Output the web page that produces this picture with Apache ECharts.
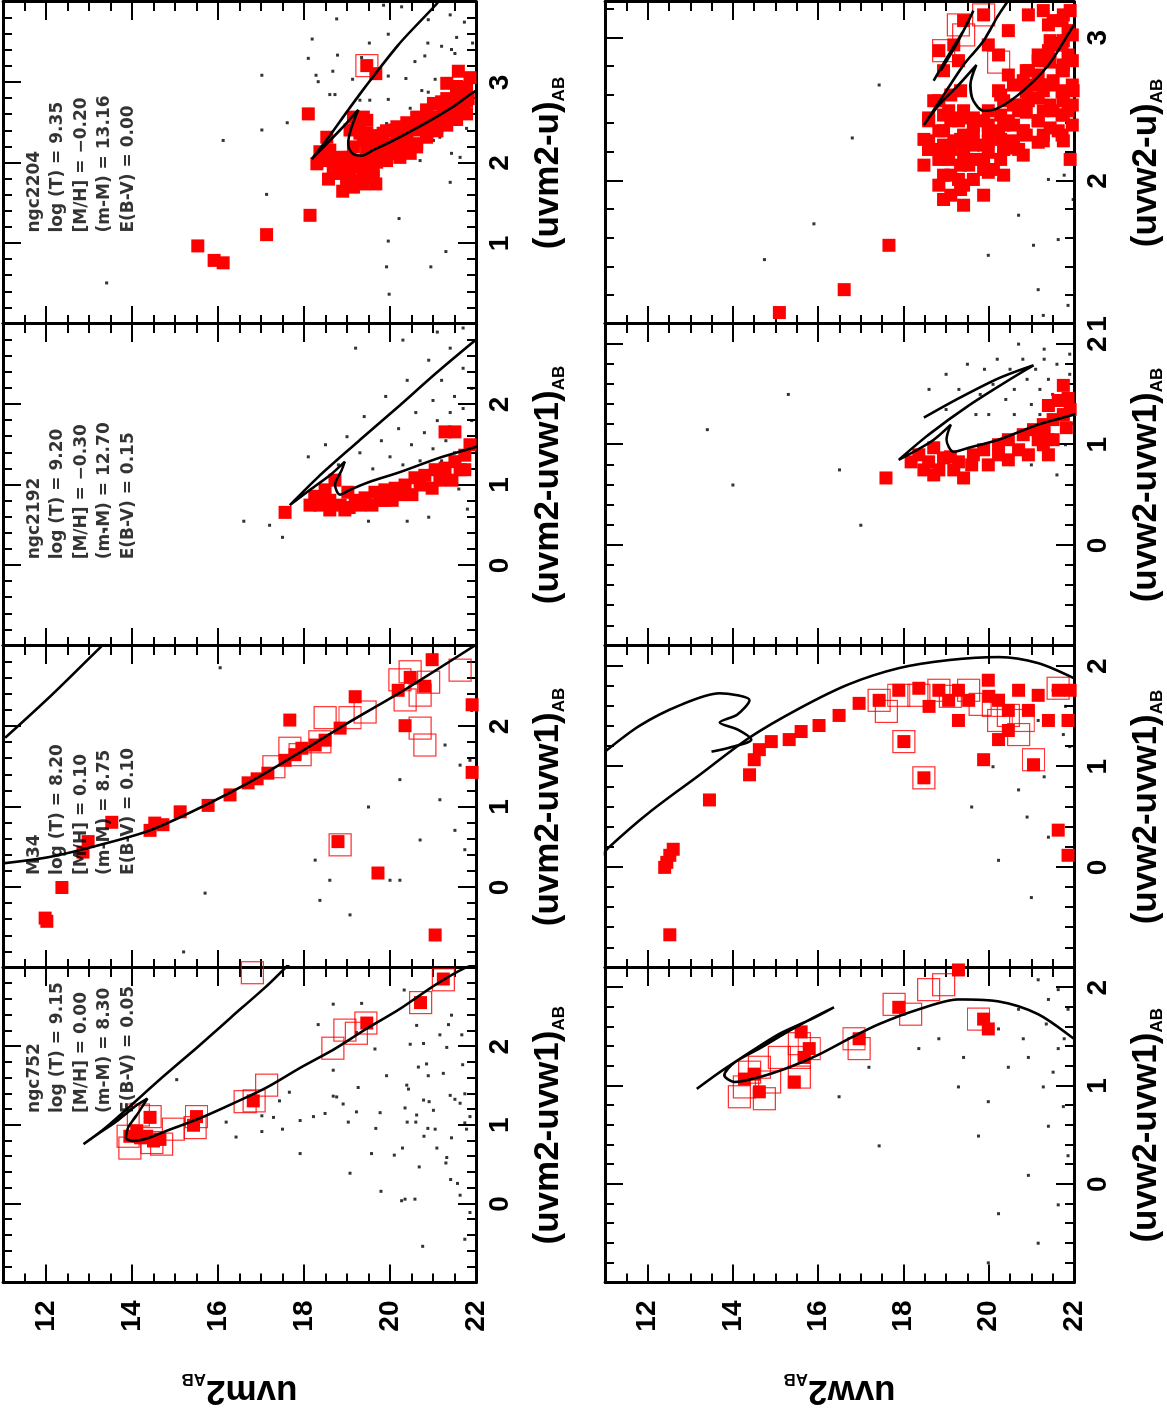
<!DOCTYPE html>
<html>
<head>
<meta charset="utf-8">
<script src="https://cdn.jsdelivr.net/npm/echarts@6/dist/echarts.min.js"></script>
<style>
  html, body { margin: 0; padding: 0; background: #fff; overflow: hidden; }
  body { width: 1167px; height: 1409px; position: relative; }
  /* the figure is drawn landscape and turned a quarter turn, like the printed page */
  #chart {
    position: absolute; left: 0; top: 0;
    width: 1409px; height: 1167px;
    transform-origin: 0 0;
    transform: translate(0, 1409px) rotate(-90deg);
  }
</style>
</head>
<body>
<div id="chart"></div>
<script>
// magnitude axis (same for all panels)
const magTicks = [12, 14, 16, 18, 20, 22];

// ---- ngc752, uvm2 vs (uvm2-uvw1) ----  points are [colour, magnitude]
const ngc752M2Iso = [[3.05,22.1],[3.0,21.74],[2.77,21.01],[2.48,20.23],[2.23,19.46],[1.96,18.68],[1.73,17.91],[1.48,17.13],[1.28,16.36],[1.09,15.58],[0.93,14.81],[0.83,14.34],[0.80,14.03],[0.84,13.86],[0.97,13.91],[1.13,14.11],[1.34,14.36],[1.24,14.07],[1.05,13.64],[0.91,13.26],[0.76,12.87],[0.98,13.41],[1.28,14.03],[1.66,14.81],[2.02,15.58],[2.40,16.36],[2.77,17.13],[3.06,17.67]];
const ngc752M2Filled = [[2.86,21.24],[2.56,20.71],[2.30,19.46],[1.31,16.82],[1.00,15.43],[1.11,15.50],[1.10,14.42],[0.93,14.11],[0.86,14.34],[0.82,14.65],[0.86,13.95],[0.84,14.2],[0.80,14.5]];
const ngc752M2Open = [[2.85,21.24],[2.56,20.71],[2.30,19.44],[2.17,19.22],[2.21,18.95],[1.98,18.67],[1.51,17.13],[1.31,16.84],[1.30,16.63],[1.11,15.50],[0.97,15.47],[0.95,14.96],[1.13,14.15],[1.11,14.42],[0.86,13.91],[0.71,13.95],[0.78,14.46],[0.76,14.69],[2.94,16.80]];
const ngc752M2Field = [[2.54,18.68],[2.55,19.34],[2.28,18.33],[2.18,19.22],[1.97,19.65],[2.72,20.33],[2.03,20.47],[2.27,20.62],[2.04,20.78],[1.99,21.32],[2.15,21.16],[2.28,21.36],[2.40,21.43],[2.15,21.67],[1.77,21.69],[1.66,21.24],[1.63,19.92],[1.78,20.85],[1.74,20.66],[1.63,20.89],[1.51,20.39],[1.46,20.43],[1.38,21.40],[1.33,21.51],[1.28,21.63],[1.40,21.74],[1.32,20.78],[1.30,20.91],[1.22,20.35],[1.13,20.62],[1.19,21.01],[1.16,19.77],[1.17,19.22],[1.27,18.91],[1.37,18.68],[1.36,18.76],[1.48,19.26],[1.04,19.03],[1.15,18.49],[1.11,18.22],[1.06,17.91],[1.42,17.66],[1.31,17.43],[1.10,17.29],[1.12,17.02],[0.92,17.02],[0.95,17.50],[1.04,16.19],[0.85,16.42],[1.58,15.04],[1.70,18.68],[0.96,19.67],[1.04,20.40],[1.04,20.60],[0.96,20.88],[0.95,21.05],[0.86,20.79],[0.84,21.43],[0.71,21.09],[0.71,20.29],[0.62,20.10],[0.64,19.57],[0.39,19.07],[0.64,17.91],[0.47,20.68],[0.59,21.32],[0.52,21.30],[0.31,21.41],[0.26,21.57],[0.16,19.79],[0.04,20.27],[0.06,20.35],[0.06,20.58],[0.11,21.63],[-0.45,21.74],[-0.54,20.76],[-0.11,21.86],[0.95,21.78],[1.11,21.86],[1.03,21.74]];

// ---- M34, uvm2 vs (uvm2-uvw1) ----
const m34M2Iso = [[0.30,11.0],[0.38,12.09],[0.53,13.26],[0.71,14.42],[0.99,15.58],[1.31,16.74],[1.68,17.91],[2.06,19.07],[2.42,20.23],[2.73,21.16],[3.05,22.1]];
const m34M2IsoGiant = [[1.86,11.05],[2.37,12.09],[2.98,13.26],[3.1,13.5]];
const m34M2Filled = [[-0.38,11.98],[-0.42,12.02],[0.0,12.37],[0.44,12.86],[0.57,12.98],[0.81,13.53],[0.71,14.42],[0.80,14.53],[0.78,14.72],[0.94,15.12],[1.02,15.77],[1.15,16.28],[1.30,16.70],[1.35,16.91],[1.42,17.16],[1.58,17.56],[1.65,17.79],[1.73,17.95],[1.77,18.26],[1.83,18.49],[2.08,17.67],[1.98,18.84],[2.37,19.19],[0.18,19.72],[0.57,18.79],[2.01,20.35],[2.61,20.47],[2.50,20.81],[2.83,20.98],[-0.59,21.05],[2.27,21.91],[1.43,21.91],[2.45,20.19]];
const m34M2Open = [[1.73,17.67],[1.65,17.91],[1.81,18.37],[2.11,18.49],[0.53,18.84],[2.11,19.07],[2.18,19.42],[2.58,20.23],[2.68,20.47],[2.39,20.70],[1.77,20.81],[1.98,20.70],[2.70,21.63],[2.33,20.35],[2.55,20.9],[1.50,17.3]];
const m34M2Field = [[-0.07,15.70],[0.34,18.26],[-0.16,18.37],[0.09,20.23],[1.09,21.16],[1.52,21.63],[1.58,21.86],[2.73,16.05],[-0.34,19.07],[0.09,20.0],[0.09,18.6],[0.59,20.7],[0.71,21.51],[0.47,21.74],[1.34,20.23],[1.77,21.28],[-0.8,15.2],[2.2,21.9],[1.0,19.5]];

// ---- ngc2192, uvm2 vs (uvm2-uvw1) ----
const ngc2192M2Iso = [[1.50,22.1],[1.47,21.98],[1.34,21.16],[1.16,20.23],[1.04,19.53],[0.94,19.07],[0.88,18.84],[1.0,18.72],[1.19,18.88],[1.29,18.95],[1.12,18.60],[0.94,18.14],[0.75,17.67],[1.12,18.37],[1.56,19.30],[1.99,20.23],[2.43,21.16],[2.85,22.1]];
const ngc2192M2Filled = [[0.66,17.56],[0.84,18.33],[0.94,18.49],[0.81,18.60],[0.75,18.84],[0.91,19.02],[0.81,19.19],[0.84,19.42],[0.91,19.65],[0.94,19.88],[0.96,20.12],[1.0,20.35],[1.09,20.58],[1.12,20.81],[1.19,21.05],[1.21,21.28],[1.29,21.51],[1.37,21.74],[1.50,21.86],[0.75,19.30],[0.75,18.37],[0.69,18.60],[0.69,18.95],[0.81,19.77],[0.88,20.23],[1.0,20.70],[1.06,21.16],[1.19,21.63],[1.06,18.72],[0.81,19.88],[1.66,21.28],[1.66,21.51],[0.75,18.14],[0.75,19.58],[0.81,20.05],[0.88,20.51],[0.96,20.98],[1.06,21.44],[1.19,21.74],[0.86,18.25],[0.72,19.05]];
const ngc2192M2Open = [];
const ngc2192M2Field = [[0.45,13.4],[0.55,16.6],[0.5,17.2],[0.35,17.5],[1.35,18.1],[1.5,18.5],[1.25,18.8],[1.6,19.0],[1.4,19.3],[1.85,19.4],[1.2,19.6],[1.55,19.8],[2.1,19.9],[1.35,20.0],[1.7,20.2],[1.25,20.3],[2.3,20.4],[1.5,20.5],[1.9,20.6],[1.3,20.7],[1.65,20.8],[2.55,20.9],[1.45,21.0],[2.05,21.0],[1.8,21.1],[1.3,21.2],[2.3,21.2],[1.55,21.3],[1.9,21.4],[2.7,21.4],[1.4,21.5],[2.1,21.5],[1.7,21.6],[1.25,21.6],[1.95,21.7],[2.45,21.7],[1.5,21.8],[1.15,21.8],[1.8,21.9],[2.2,21.9],[1.1,21.3],[0.95,21.6],[0.6,20.9],[0.7,21.8],[0.55,20.4],[0.55,19.5],[2.9,21.1],[2.8,20.3],[2.7,19.2],[2.95,21.7]];

// ---- ngc2204, uvm2 vs (uvm2-u) ----
const ngc2204M2Iso = [[2.92,22.1],[2.88,21.94],[2.70,21.47],[2.55,21.01],[2.41,20.54],[2.28,20.08],[2.16,19.61],[2.09,19.34],[2.11,19.15],[2.18,19.05],[2.26,19.03],[2.45,19.11],[2.66,19.26],[2.45,18.91],[2.24,18.53],[2.05,18.18],[2.34,18.60],[2.66,19.03],[2.97,19.46],[3.49,20.23],[3.98,21.09],[4.1,21.25]];
const ngc2204M2Filled = [[2.61,18.10],[1.35,18.14],[1.11,17.13],[0.97,15.53],[0.79,15.91],[0.76,16.12],[1.80,18.57],[1.65,18.90],[1.74,19.67],[3.21,19.46],[3.11,19.67],[3.14,21.59],[3.06,21.86],[2.80,21.82],[2.74,21.01],[2.76,21.20],[2.59,21.51],[2.95,21.55],[2.99,21.32],[2.32,18.53],[2.03,18.41],[2.07,18.68],[1.95,18.91],[1.87,19.07],[1.95,19.30],[2.03,19.46],[2.20,19.15],[2.28,19.38],[2.37,19.46],[2.32,19.61],[2.37,19.84],[2.41,20.08],[2.43,20.31],[2.45,20.54],[2.53,20.78],[2.57,21.01],[2.63,21.24],[2.66,21.47],[2.70,21.71],[2.57,19.15],[2.57,19.38],[2.45,19.30],[2.41,19.07],[2.07,18.91],[1.87,19.38],[1.91,19.61],[2.03,19.92],[2.07,20.23],[2.12,20.47],[2.20,20.62],[2.20,19.84],[2.20,20.15],[2.28,20.39],[2.37,20.86],[2.45,21.09],[1.91,18.84],[1.78,19.22],[1.78,18.99],[2.14,19.46],[2.07,19.69],[1.95,18.68],[1.99,18.30],[2.78,21.40],[2.82,21.64],
  [2.29,19.46],[2.12,19.46],[1.96,19.46],[2.34,19.69],[2.18,19.69],[2.01,19.69],[2.40,19.92],[2.23,19.92],[2.07,19.92],[2.45,20.16],[2.28,20.16],[2.12,20.16],[2.50,20.39],[2.34,20.39],[2.17,20.39],[2.57,20.62],[2.41,20.62],[2.24,20.62],[2.66,20.85],[2.49,20.85],[2.32,20.85],[2.73,21.09],[2.56,21.09],[2.40,21.09],[2.80,21.32],[2.63,21.32],[2.47,21.32],[2.87,21.55],[2.71,21.55],[2.54,21.55],[2.94,21.78],[2.77,21.78],[2.61,21.78],
  [2.03,18.76],[2.07,18.99],[2.03,19.22],[1.83,19.61],[1.91,18.99],[1.70,19.15],[1.74,19.38],[1.87,18.76],[2.53,19.26],[2.53,19.46],[2.37,19.30],[2.24,19.53],[2.07,19.07],[2.16,18.60],[2.14,18.37]];
const ngc2204M2Open = [[3.21,19.46]];
const ngc2204M2Field = [[3.79,18.76],[3.60,19.96],[3.49,19.52],[3.31,19.34],[3.54,18.19],[3.30,18.10],[3.34,18.78],[3.14,18.67],[3.09,18.28],[3.01,18.33],[3.09,17.02],[2.85,18.60],[2.85,18.72],[3.04,19.13],[2.78,19.30],[2.78,19.53],[2.79,19.96],[3.08,19.96],[3.05,20.37],[3.26,20.58],[3.33,20.81],[3.04,21.05],[3.49,20.88],[3.45,21.20],[3.41,21.43],[3.36,21.51],[3.56,21.55],[3.75,21.73],[3.49,21.92],[3.84,21.40],[3.78,20.89],[3.94,20.27],[2.90,20.74],[2.88,20.89],[2.68,20.47],[2.45,21.43],[2.43,21.78],[2.32,21.16],[2.28,21.01],[2.07,21.63],[2.12,21.43],[2.03,20.70],[1.76,21.40],[1.31,20.21],[1.03,19.96],[0.90,21.30],[0.71,19.92],[0.71,20.95],[0.37,19.98],[2.50,17.61],[2.41,17.02],[2.28,16.12],[1.61,17.13],[0.51,13.41],[2.49,19.92],[3.96,19.85]];

// ---- ngc752, uvw2 vs (uvw2-uvw1) ----
const ngc752W2Iso = [[1.40,22.2],[1.48,22.0],[1.73,21.16],[1.86,20.23],[1.88,19.29],[1.78,18.36],[1.63,17.43],[1.48,16.72],[1.32,16.02],[1.19,15.32],[1.09,14.62],[1.04,14.04],[1.11,13.80],[1.24,14.04],[1.38,14.62],[1.56,15.32],[1.70,15.91],[1.80,16.37],[1.68,15.84],[1.53,15.09],[1.34,14.39],[1.14,13.69],[0.97,13.15]];
const ngc752W2Filled = [[2.18,19.29],[1.68,19.88],[1.58,19.99],[1.07,14.27],[0.94,14.62],[1.04,15.44],[1.38,15.79],[1.48,16.96],[1.80,17.89],[1.29,15.67],[1.12,14.5],[1.55,15.6]];
const ngc752W2Open = [[0.99,14.27],[1.14,14.39],[1.19,14.62],[1.29,15.09],[1.04,14.86],[1.29,15.56],[1.43,15.56],[1.38,15.79],[1.48,16.84],[1.38,16.96],[1.83,17.78],[1.73,18.17],[1.98,18.59],[2.03,18.94],[1.68,19.76],[0.89,14.15],[0.87,14.74],[1.09,15.56]];
const ngc752W2Field = [[2.08,21.16],[1.98,21.63],[1.88,21.40],[1.78,20.70],[1.58,20.23],[1.38,21.63],[1.29,20.93],[0.99,21.28],[1.19,20.46],[0.79,21.75],[0.84,19.99],[0.59,21.40],[0.29,21.86],[0.49,19.76],[0.09,20.93],[-0.21,21.63],[0.99,19.29],[-0.30,20.23],[1.38,18.36],[1.19,17.19],[0.89,16.49],[0.39,17.43],[-0.80,19.99],[-0.60,21.16],[1.78,21.86],[1.14,21.51],[1.48,18.83],[1.29,19.41],[1.48,21.77],[1.48,20.81],[1.63,21.35]];

// ---- M34, uvw2 vs (uvw2-uvw1) ----
const m34W2Iso = [[0.10,10.9],[0.19,11.07],[0.55,12.05],[0.92,13.22],[1.29,14.39],[1.58,15.56],[1.82,16.72],[1.98,17.89],[2.06,19.06],[2.09,20.23],[2.03,21.16],[1.88,22.0],[1.80,22.3]];
const m34W2IsoLoop = [[1.15,11.0],[1.41,11.82],[1.61,12.75],[1.73,13.69],[1.66,14.39],[1.52,14.11],[1.44,13.69],[1.37,14.11],[1.27,14.43],[1.19,13.92],[1.15,13.50]];
const m34W2Filled = [[0.05,12.45],[0.12,12.52],[0.18,12.6],[0.0,12.4],[-0.67,12.52],[0.67,13.45],[0.92,14.39],[1.07,14.50],[1.17,14.62],[1.27,15.32],[1.41,16.02],[1.51,16.49],[1.66,17.43],[1.76,17.89],[1.78,18.36],[1.76,18.83],[1.76,19.29],[1.66,19.53],[1.86,19.99],[1.66,20.23],[1.56,20.46],[1.76,20.70],[1.71,21.16],[1.76,21.63],[1.46,21.40],[1.46,21.86],[1.25,18.01],[0.89,18.48],[1.46,19.29],[1.27,20.23],[1.56,20.93],[0.37,21.63],[0.12,21.86],[1.02,21.05],[1.07,19.88],[1.36,20.46],[1.66,19.06],[1.63,16.96],[1.76,21.91],[1.25,14.9],[1.35,15.6],[1.6,18.6],[1.7,20.0]];
const m34W2Open = [[1.66,17.43],[1.71,17.89],[1.71,18.36],[1.76,18.83],[1.25,18.01],[0.89,18.48],[1.61,20.11],[1.51,20.46],[1.32,20.70],[1.07,21.05],[1.78,21.63],[1.76,19.53],[1.46,20.23],[1.46,20.81],[1.70,19.1],[1.62,19.8],[1.55,17.6]];
const m34W2Field = [[0.07,20.23],[0.77,20.70],[1.46,21.16],[1.76,21.51],[1.32,21.75],[0.5,20.9],[1.0,20.1],[1.2,21.9],[0.3,21.4],[0.9,21.3],[1.6,21.8],[0.6,19.6],[-0.3,21.0]];

// ---- ngc2192, uvw2 vs (uvw2-uvw1) ----
const ngc2192W2Iso = [[1.33,22.2],[1.30,22.0],[1.20,21.16],[1.05,20.23],[0.97,19.53],[0.93,19.18],[1.05,19.01],[1.20,19.11],[1.05,18.71],[0.93,18.24],[0.85,17.89],[1.10,18.59],[1.39,19.53],[1.64,20.46],[1.79,21.05],[1.66,20.23],[1.46,19.29],[1.27,18.48]];
const ngc2192W2Filled = [[0.67,17.59],[0.90,18.36],[0.83,18.59],[0.87,18.94],[0.83,19.29],[0.90,19.64],[0.95,19.88],[1.0,20.23],[1.05,20.46],[1.10,20.81],[1.15,21.05],[1.20,21.28],[1.25,21.51],[1.30,21.75],[1.39,21.40],[1.44,21.63],[1.46,21.86],[1.59,21.75],[1.0,21.28],[0.90,21.40],[1.17,21.82],[0.75,18.83],[0.75,18.48],[0.75,19.18],[0.90,20.23],[0.95,20.70],[1.05,21.16],[0.97,18.71],[0.83,18.18],
  [0.70,18.71],[0.67,19.41],[0.80,19.99],[0.85,20.46],[0.90,20.93],[1.05,21.51],[1.35,21.91],[0.80,19.6],[0.88,19.1],[1.12,21.3]];
const ngc2192W2Open = [];
const ngc2192W2Field = [[1.7,19.0],[1.55,19.3],[1.8,19.5],[1.5,19.8],[1.75,19.9],[1.6,20.1],[1.85,20.2],[1.45,20.4],[1.75,20.5],[1.55,20.6],[1.85,20.8],[1.65,20.9],[1.4,21.0],[1.75,21.1],[1.55,21.2],[1.85,21.3],[1.65,21.4],[1.5,21.5],[1.8,21.6],[1.6,21.7],[1.4,21.8],[1.7,21.9],[1.3,21.2],[1.1,21.5],[1.0,21.8],[0.8,21.0],[0.7,21.6],[1.3,20.6],[1.3,20.0],[1.3,19.7],[1.35,19.0],[1.55,18.6],[1.15,13.4],[1.5,15.3],[0.75,16.5],[0.2,17.0],[0.6,14.0],[1.95,21.3],[2.0,20.7],[1.9,21.9]];

// ---- ngc2204, uvw2 vs (uvw2-u) ----
const ngc2204W2Iso = [[3.12,22.1],[3.09,22.0],[2.81,21.40],[2.63,20.81],[2.51,20.23],[2.49,19.88],[2.56,19.64],[2.67,19.57],[2.81,19.71],[2.67,19.29],[2.53,18.83],[2.39,18.48],[2.60,18.94],[2.81,19.41],[2.98,19.88],[3.16,20.23],[3.30,20.55]];
const ngc2204W2IsoLoop = [[2.70,18.71],[2.88,19.06],[3.05,19.41],[3.19,19.64],[2.98,19.29],[2.77,18.87]];
const ngc2204W2Filled = [[2.42,18.59],[2.35,18.94],[2.28,19.18],[2.22,19.41],[2.25,19.64],[2.28,19.99],[2.35,20.23],[2.42,20.46],[2.49,20.70],[2.56,20.93],[2.63,21.28],[2.70,21.51],[2.77,21.75],[2.88,21.86],[2.95,21.63],[2.91,21.40],[2.84,21.16],[2.77,20.93],[3.05,21.86],[3.16,21.75],[3.19,21.28],[3.09,21.40],[2.22,18.83],[2.15,19.06],[2.11,19.53],[2.15,19.88],[2.08,20.11],[2.22,20.35],[2.28,20.58],[2.35,20.81],[2.42,21.16],[2.49,21.51],[2.56,21.75],[2.63,21.98],[2.42,19.29],[2.39,19.64],[2.39,19.99],[2.28,18.59],[2.56,18.71],[2.49,19.06],[2.91,18.83],[2.95,19.18],[3.12,19.41],[3.16,19.88],[2.88,20.23],[2.74,20.46],[2.63,20.23],[2.28,21.28],[2.35,21.63],[2.01,19.29],[2.22,18.59],[1.55,17.66],[1.24,16.61],[1.08,15.09],[2.49,21.86],[2.22,20.70],[2.67,21.05],
  [2.29,18.48],[2.11,18.48],[2.46,18.94],[2.25,18.94],[2.04,18.94],[1.87,18.94],[2.49,19.41],[2.32,19.41],[2.15,19.41],[1.97,19.41],[1.83,19.41],[2.42,19.88],[2.25,19.88],[2.08,19.88],[1.90,19.88],[2.56,20.35],[2.39,20.35],[2.22,20.35],[2.04,20.35],[2.70,20.81],[2.53,20.81],[2.35,20.81],[2.18,20.81],[2.84,21.28],[2.67,21.28],[2.49,21.28],[2.32,21.28],[2.98,21.75],[2.81,21.75],[2.63,21.75],[2.46,21.75],[2.28,21.75],[3.19,21.91],[2.15,21.91],[2.77,18.94],[2.84,19.29],[2.95,19.99],[3.05,20.46],[3.16,20.93],[3.12,21.51],
  [2.44,18.59],[2.22,18.59],[2.56,18.83],[2.35,18.83],[2.15,18.83],[1.97,18.83],[2.60,19.11],[2.42,19.11],[2.22,19.11],[2.04,19.11],[1.90,19.11],[2.63,19.34],[2.44,19.34],[2.29,19.34],[2.11,19.34],[1.94,19.34],[2.44,19.64],[2.32,19.64],[2.15,19.64],[2.01,19.64],[2.49,19.99],[2.35,19.99],[2.20,19.99],[2.06,19.99],[2.60,20.28],[2.46,20.28],[2.29,20.28],[2.15,20.28],[2.67,20.58],[2.53,20.58],[2.39,20.58],[2.23,20.58],[2.77,20.88],[2.62,20.88],[2.48,20.88],[2.32,20.88],[2.88,21.16],[2.74,21.16],[2.58,21.16],[2.42,21.16],[2.27,21.16],[2.98,21.44],[2.83,21.44],[2.67,21.44],[2.53,21.44],[2.37,21.44],[3.12,21.72],[2.95,21.72],[2.77,21.72],[2.62,21.72],[2.46,21.72],[2.32,21.72],[3.02,21.96],[2.84,21.96],[2.67,21.96],[2.53,21.96],[2.39,21.96]];
const ngc2204W2Open = [[2.91,18.94],[3.09,19.29],[2.83,20.23],[3.16,19.88],[3.02,19.41]];
const ngc2204W2Field = [[1.87,21.98],[1.59,21.63],[1.24,21.16],[1.13,21.86],[1.76,20.70],[2.01,20.23],[2.01,21.40],[2.67,17.43],[1.45,14.74],[1.48,19.99],[1.55,21.05],[2.04,21.77],[1.06,21.28],[1.7,15.9],[2.3,16.8]];

// isochrone parameters printed in the upper panels
const ngc752Note = ['ngc752', 'log (T) = 9.15', '[M/H] = 0.00', '(m-M) = 8.30', 'E(B-V) = 0.05'];
const m34Note = ['M34', 'log (T) = 8.20', '[M/H] = 0.10', '(m-M) = 8.75', 'E(B-V) = 0.10'];
const ngc2192Note = ['ngc2192', 'log (T) = 9.20', '[M/H] = \u22120.30', '(m-M) = 12.70', 'E(B-V) = 0.15'];
const ngc2204Note = ['ngc2204', 'log (T) = 9.35', '[M/H] = \u22120.20', '(m-M) = 13.16', 'E(B-V) = 0.00'];

const panels = [
  {row: 0, col: 0, cmin: -1, cmax: 3, cname: '(uvm2-uvw1)', iso: [ngc752M2Iso], filled: ngc752M2Filled, open: ngc752M2Open, field: ngc752M2Field, note: ngc752Note, noteAt: [1.15, 11.45]},
  {row: 0, col: 1, cmin: -1, cmax: 3, cname: '(uvm2-uvw1)', iso: [m34M2Iso, m34M2IsoGiant], filled: m34M2Filled, open: m34M2Open, field: m34M2Field, note: m34Note, noteAt: [0.15, 11.45]},
  {row: 0, col: 2, cmin: -1, cmax: 3, cname: '(uvm2-uvw1)', iso: [ngc2192M2Iso], filled: ngc2192M2Filled, open: ngc2192M2Open, field: ngc2192M2Field, note: ngc2192Note, noteAt: [0.07, 11.45]},
  {row: 0, col: 3, cmin: 0, cmax: 4, cname: '(uvm2-u)', iso: [ngc2204M2Iso], filled: ngc2204M2Filled, open: ngc2204M2Open, field: ngc2204M2Field, note: ngc2204Note, noteAt: [1.13, 11.45]},
  {row: 1, col: 0, cmin: -1, cmax: 2.2, cname: '(uvw2-uvw1)', iso: [ngc752W2Iso], filled: ngc752W2Filled, open: ngc752W2Open, field: ngc752W2Field},
  {row: 1, col: 1, cmin: -1, cmax: 2.2, cname: '(uvw2-uvw1)', iso: [m34W2Iso, m34W2IsoLoop], filled: m34W2Filled, open: m34W2Open, field: m34W2Field},
  {row: 1, col: 2, cmin: -1, cmax: 2.2, cname: '(uvw2-uvw1)', iso: [ngc2192W2Iso], filled: ngc2192W2Filled, open: ngc2192W2Open, field: ngc2192W2Field},
  {row: 1, col: 3, cmin: 1, cmax: 3.25, cname: '(uvw2-u)', iso: [ngc2204W2Iso, ngc2204W2IsoLoop], filled: ngc2204W2Filled, open: ngc2204W2Open, field: ngc2204W2Field}
];
const magNames = ['uvm2', 'uvw2'];

// layout of the landscape page (before the quarter turn)
const gridLeft = [119, 441, 763, 1085];
const gridTop = [3, 605];
const gridH = [473, 471];
const gridW = 322;

const black = '#000';
const frameLine = {show: true, onZero: false, lineStyle: {color: black, width: 3}};
const noLine = {show: false, onZero: false};
const majorTick = {show: true, inside: true, length: 18, lineStyle: {color: black, width: 2}};
const minorTick = {show: true, inside: true, length: 9, lineStyle: {color: black, width: 2}};
const tickFont = {fontFamily: 'Liberation Sans', fontWeight: 'bold', fontSize: 28, color: black};
const nameRich = {
  t: {fontFamily: 'Liberation Sans', fontWeight: 'bold', fontSize: 35, color: black, lineHeight: 40},
  s: {fontFamily: 'Liberation Sans', fontWeight: 'bold', fontSize: 17, color: black, lineHeight: 22, verticalAlign: 'bottom'}
};

const grids = [], xAxes = [], yAxes = [], series = [];

panels.forEach(function (p, i) {
  grids.push({left: gridLeft[p.col], top: gridTop[p.row], width: gridW, height: gridH[p.row]});

  // colour axis: bottom and top edge, long ticks every 1, short every 0.2
  const cb = {gridIndex: i, type: 'value', min: p.cmin, max: p.cmax, splitLine: {show: false}, axisLine: noLine, axisLabel: {show: false}};
  xAxes.push(
    Object.assign({}, cb, {
      position: 'bottom', interval: 1, axisLine: frameLine, axisTick: majorTick,
      axisLabel: Object.assign({show: true, margin: 10, showMinLabel: p.cmin === 1, showMaxLabel: false}, tickFont),
      name: '{t|' + p.cname + '}{s|AB}', nameLocation: 'middle', nameGap: 52,
      nameTextStyle: {rich: nameRich}
    }),
    Object.assign({}, cb, {position: 'bottom', interval: 0.2, axisTick: minorTick}),
    Object.assign({}, cb, {position: 'top', interval: 1, axisLine: frameLine, axisTick: majorTick}),
    Object.assign({}, cb, {position: 'top', interval: 0.2, axisTick: minorTick})
  );

  // magnitude axis: left and right edge, long ticks at even values, short every 0.5
  const mb = {gridIndex: i, type: 'value', inverse: true, min: 11, max: 22, splitLine: {show: false}, axisLine: noLine, axisLabel: {show: false}};
  const first = {
    position: 'left', axisLine: frameLine,
    axisTick: Object.assign({customValues: magTicks}, majorTick),
    axisLabel: Object.assign({show: p.col === 0, customValues: magTicks, margin: 18}, tickFont)
  };
  if (p.col === 0) {
    first.name = '{t|' + magNames[p.row] + '}{s|AB}';
    first.nameLocation = 'middle';
    first.nameGap = 88;
    first.nameTextStyle = {rich: nameRich};
  }
  yAxes.push(
    Object.assign({}, mb, first),
    Object.assign({}, mb, {position: 'left', interval: 0.5, axisTick: minorTick}),
    Object.assign({}, mb, {position: 'right', axisLine: frameLine, axisTick: Object.assign({customValues: magTicks}, majorTick)}),
    Object.assign({}, mb, {position: 'right', interval: 0.5, axisTick: minorTick})
  );

  const ax = {xAxisIndex: i * 4, yAxisIndex: i * 4, silent: true};
  series.push(Object.assign({type: 'scatter', data: p.field, symbol: 'rect', symbolSize: 3, itemStyle: {color: black}, z: 2}, ax));
  series.push(Object.assign({type: 'scatter', data: p.open, symbol: 'rect', symbolSize: 22,
    itemStyle: {color: 'rgba(0,0,0,0)', borderColor: '#ff0000', borderWidth: 1.2}, z: 3}, ax));
  series.push(Object.assign({type: 'scatter', data: p.filled, symbol: 'rect', symbolSize: 13, itemStyle: {color: '#ff0000', opacity: 1}, z: 4}, ax));
  p.iso.forEach(function (seg) {
    series.push(Object.assign({type: 'line', data: seg, symbol: 'none', smooth: 0.3,
      lineStyle: {color: black, width: 2.6}, z: 5}, ax));
  });
  if (p.note) {
    series.push(Object.assign({
      type: 'scatter', data: [p.noteAt], symbol: 'rect', symbolSize: 1,
      itemStyle: {color: 'rgba(0,0,0,0)'}, z: 6,
      label: {
        show: true, position: 'right', distance: 0, align: 'left', verticalAlign: 'top',
        formatter: p.note.join('\n'),
        fontFamily: 'DejaVu Sans', fontWeight: 'bold', fontSize: 17, lineHeight: 23.5, color: black
      }
    }, ax));
  }
});

const chart = echarts.init(document.getElementById('chart'), null, {renderer: 'canvas', width: 1409, height: 1167});
chart.setOption({
  animation: false,
  backgroundColor: '#fff',
  grid: grids,
  xAxis: xAxes,
  yAxis: yAxes,
  series: series
});
</script>
</body>
</html>
